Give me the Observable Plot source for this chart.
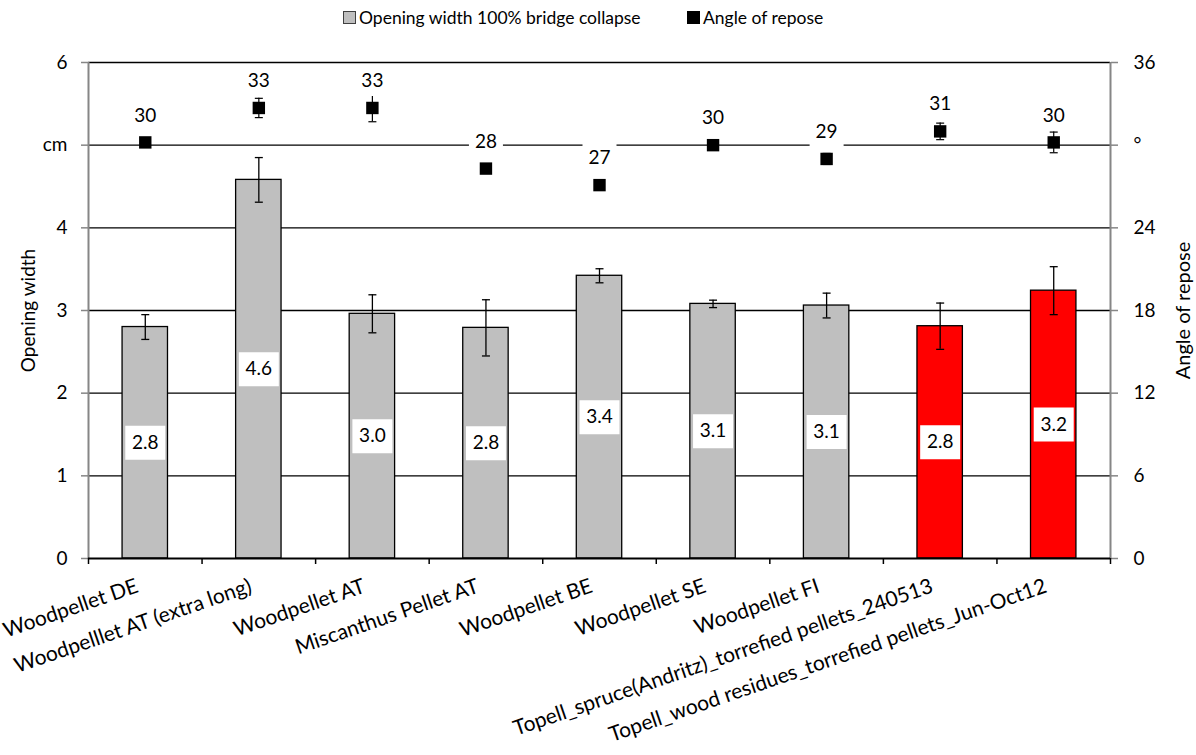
<!DOCTYPE html>
<html>
<head>
<meta charset="utf-8">
<script src="https://cdn.jsdelivr.net/npm/d3@7"></script>
<script src="https://cdn.jsdelivr.net/npm/@observablehq/plot@0.6"></script>
<style>
  body { margin: 0; background: #fff; font-family: Lato, "Open Sans", sans-serif; }
  #legend { position: relative; width: 1196px; height: 38px; font-size: 17.5px; color: #000; }
  #legend .item { position: absolute; top: 7px; display: flex; align-items: center; white-space: nowrap; }
  #legend .sw { width: 13px; height: 13px; box-sizing: border-box; margin-right: 3px; }
</style>
</head>
<body>
<div id="legend">
  <div class="item" style="left:343px"><span class="sw" style="background:#BFBFBF;border:1px solid #404040"></span>Opening width 100% bridge collapse</div>
  <div class="item" style="left:687px"><span class="sw" style="background:#000"></span>Angle of repose</div>
</div>
<div id="chart"></div>
<script>
// Pellet samples
const categories = [
  "Woodpellet DE",
  "Woodpelllet AT (extra long)",
  "Woodpellet AT",
  "Miscanthus Pellet AT",
  "Woodpellet BE",
  "Woodpellet SE",
  "Woodpellet FI",
  "Topell_spruce(Andritz)_torrefied pellets_240513",
  "Topell_wood residues_torrefied pellets_Jun-Oct12"
];
// Opening width at 100% bridge collapse (cm) and its spread
const openingWidth = [2.80, 4.58, 2.96, 2.79, 3.42, 3.08, 3.06, 2.81, 3.24];
const openingErr   = [0.15, 0.27, 0.23, 0.34, 0.085, 0.045, 0.15, 0.28, 0.29];
// Angle of repose (degrees) and its spread
const angleOfRepose = [30.2, 32.7, 32.7, 28.3, 27.1, 30.0, 29.0, 31.0, 30.2];
const angleErr      = [0.25, 0.7, 1.0, 0.1, 0.1, 0.2, 0.4, 0.6, 0.75];
// Torrefied samples are highlighted
const torrefied = [false, false, false, false, false, false, false, true, true];

// Axis ticks
const widthTicks = [0, 1, 2, 3, 4, 5, 6];
const angleTicks = [0, 6, 12, 18, 24, 30, 36];
const unitWidth = "cm";
const unitAngle = "°";

// The angle axis shares the plot height: 36° spans the same height as 6 cm
const angleToWidth = angleTicks[angleTicks.length - 1] / widthTicks[widthTicks.length - 1];

const rows = categories.map((name, i) => ({
  i, name,
  w: openingWidth[i], we: openingErr[i],
  a: angleOfRepose[i] / angleToWidth, ae: angleErr[i] / angleToWidth,
  aRaw: angleOfRepose[i],
  torrefied: torrefied[i]
}));

const fmt1 = d3.format(".1f");
const fmt0 = d3.format(".0f");

// Symbols: short horizontal cap for error bars and white label boxes
const cap = { draw(ctx, size) { const r = Math.sqrt(size / Math.PI); ctx.moveTo(-r, 0); ctx.lineTo(r, 0); } };
const box = (w, h) => ({ draw(ctx) { ctx.rect(-w / 2, -h / 2, w, h); } });

const boundaries = d3.range(-0.5, categories.length, 1);
const axisGray = "#868686";

const chart = Plot.plot({
  width: 1196,
  height: 717,
  marginTop: 24,
  marginBottom: 197,
  marginLeft: 88,
  marginRight: 86,
  style: { fontFamily: "Lato, 'Open Sans', sans-serif", fontSize: "19px", color: "#000", background: "#fff" },
  x: { type: "linear", domain: [-0.5, categories.length - 0.5], axis: null },
  y: { domain: [0, 6], axis: null },
  marks: [
    // gridlines
    Plot.ruleY(widthTicks.slice(1), { stroke: "#000", strokeWidth: 1.3 }),
    // side axis lines
    Plot.ruleX([boundaries[0], boundaries[boundaries.length - 1]], { stroke: axisGray, strokeWidth: 2 }),
    // left axis
    Plot.axisY(widthTicks, {
      anchor: "left", tickSize: 7, tickPadding: 14, stroke: axisGray, strokeWidth: 1.5, label: null,
      tickFormat: d => d === 5 ? unitWidth : d, fill: "#000"
    }),
    // right axis (angle of repose)
    Plot.axisY(angleTicks.map(a => a / angleToWidth), {
      anchor: "right", tickSize: 7, tickPadding: 16, stroke: axisGray, strokeWidth: 1.5, label: null,
      tickFormat: d => { const a = Math.round(d * angleToWidth); return a === 30 ? unitAngle : a; }, fill: "#000"
    }),
    // category separators on the x axis
    Plot.axisX(boundaries, { anchor: "bottom", tickSize: 6, tickFormat: () => "", stroke: "#000", strokeWidth: 1.5, label: null }),
    // category labels
    Plot.axisX(d3.range(categories.length), {
      anchor: "bottom", tickSize: 0, tickRotate: -19, tickPadding: 27, dx: -8, label: null,
      tickFormat: i => categories[i], fill: "#000", fontSize: 21
    }),
    // bars
    Plot.rectY(rows.filter(d => !d.torrefied), { x1: d => d.i - 0.2, x2: d => d.i + 0.2, y: "w", fill: "#BFBFBF", stroke: "#000", strokeWidth: 1.3 }),
    Plot.rectY(rows.filter(d => d.torrefied), { x1: d => d.i - 0.2, x2: d => d.i + 0.2, y: "w", fill: "#FF0000", stroke: "#000", strokeWidth: 1.3 }),
    Plot.ruleY([0], { stroke: "#000", strokeWidth: 2 }),
    // bar error bars
    Plot.ruleX(rows, { x: "i", y1: d => d.w - d.we, y2: d => d.w + d.we, stroke: "#000", strokeWidth: 1.3 }),
    Plot.dot(rows, { x: "i", y: d => d.w + d.we, symbol: cap, r: 4, stroke: "#000", strokeWidth: 1.3 }),
    Plot.dot(rows, { x: "i", y: d => d.w - d.we, symbol: cap, r: 4, stroke: "#000", strokeWidth: 1.3 }),
    // bar value labels
    Plot.dot(rows, { x: "i", y: d => d.w / 2, symbol: box(40, 34), fill: "#fff", r: 1 }),
    Plot.text(rows, { x: "i", y: d => d.w / 2, text: d => fmt1(d.w), fill: "#000", fontSize: 19 }),
    // angle of repose error bars and markers
    Plot.ruleX(rows, { x: "i", y1: d => d.a - d.ae, y2: d => d.a + d.ae, stroke: "#000", strokeWidth: 1.2 }),
    Plot.dot(rows, { x: "i", y: d => d.a + d.ae, symbol: cap, r: 4, stroke: "#000", strokeWidth: 1.2 }),
    Plot.dot(rows, { x: "i", y: d => d.a - d.ae, symbol: cap, r: 4, stroke: "#000", strokeWidth: 1.2 }),
    Plot.dot(rows, { x: "i", y: "a", symbol: "square", r: 7, fill: "#000" }),
    // angle labels
    Plot.dot(rows, { x: "i", y: "a", dy: -27, symbol: box(34, 30), fill: "#fff", r: 1 }),
    Plot.text(rows, { x: "i", y: "a", dy: -27, text: d => fmt0(d.aRaw), fill: "#000", fontSize: 19 }),
    // axis titles
    Plot.text(["Opening width"], { frameAnchor: "left", dx: -60, rotate: -90, textAnchor: "middle", fill: "#000", fontSize: 19 }),
    Plot.text(["Angle of repose"], { frameAnchor: "right", dx: 73, rotate: -90, textAnchor: "middle", fill: "#000", fontSize: 20 })
  ]
});

document.getElementById("chart").appendChild(chart);
</script>
</body>
</html>
